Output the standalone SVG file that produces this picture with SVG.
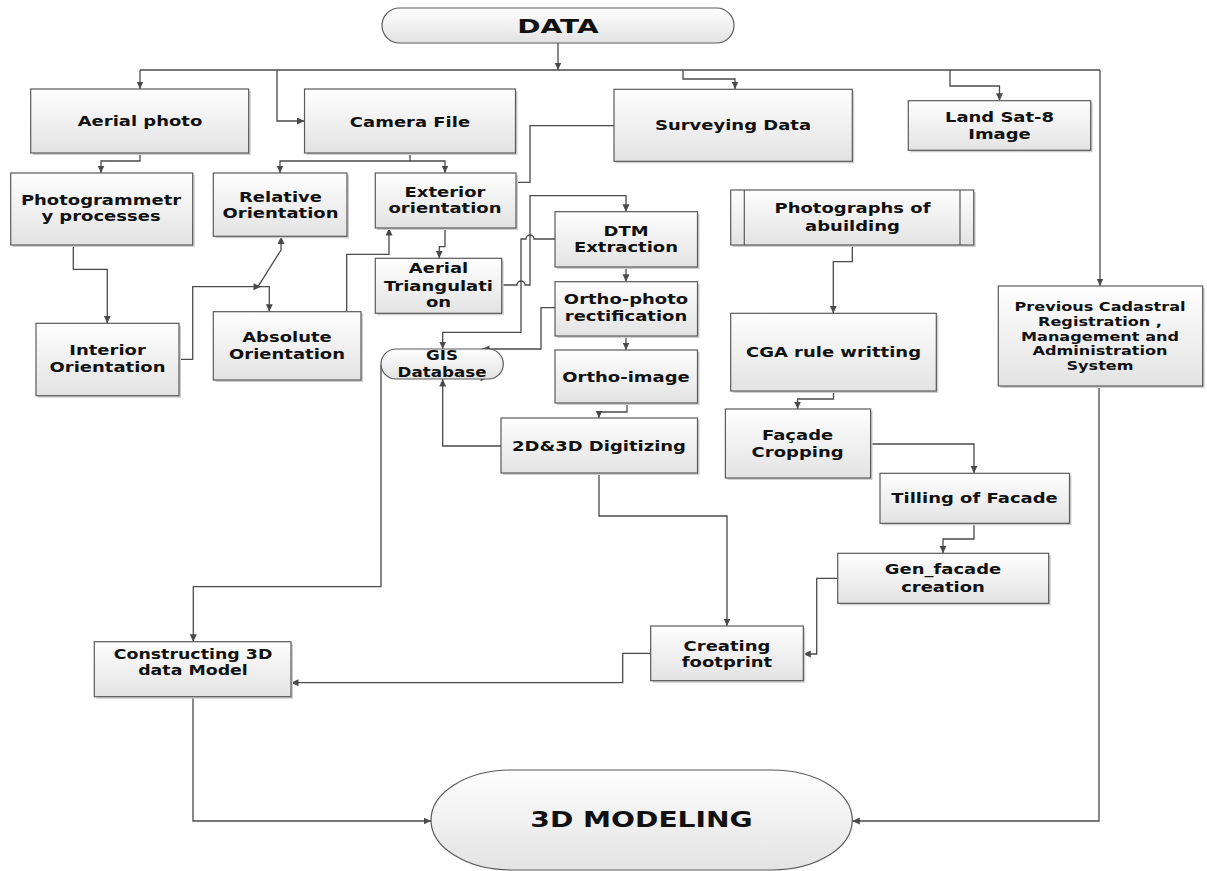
<svg xmlns="http://www.w3.org/2000/svg" width="1207" height="871" viewBox="0 0 1207 871">
<defs>
<linearGradient id="g" x1="0" y1="0" x2="0" y2="1">
<stop offset="0" stop-color="#fefefe"/>
<stop offset="1" stop-color="#e3e3e3"/>
</linearGradient>
<marker id="ah" markerUnits="userSpaceOnUse" markerWidth="9" markerHeight="8" refX="7.5" refY="3.5" orient="auto">
<path d="M0,0 L7.5,3.5 L0,7 z" fill="#4a4a4a"/>
</marker>
<style>
.b{fill:url(#g);stroke:#5a5a5a;stroke-width:1.2}
.s{fill:#cfcfcf;stroke:none}
.t{font-family:"DejaVu Sans","Verdana",sans-serif;font-weight:bold;font-size:14.5px;fill:#111;text-anchor:middle}
.c path{fill:none;stroke:#4a4a4a;stroke-width:1.3}
.c .a{marker-end:url(#ah)}
.c polygon{fill:#4a4a4a}
</style>
</defs>
<rect width="1207" height="871" fill="#fff"/>

<g class="c" id="connectors">
<path d="M558,43 V70"  class="a"/>
<path d="M140,70 H1100"/>
<path d="M140,70 V89" class="a"/>
<path d="M277,70 V121 H304.5" class="a"/>
<path d="M683,70 V79 H735 V89" class="a"/>
<path d="M950,70 V86 H999.5 V100.7" class="a"/>
<path d="M1100,70 V286" class="a"/>
<path d="M140,153 V161 H101 V173" class="a"/>
<path d="M73.3,245 V269.3 H107.3 V323.3" class="a"/>
<path d="M410,153 V161 H280 V173" class="a"/>
<path d="M410,161 H445 V173" class="a"/>
<path d="M614,125.7 H530 V182.3 H498.5" class="a"/>
<path d="M445,228 V246.7 H439.3 V258.3" class="a"/>
<path d="M179,359.3 H192.7 V286.7 H269.3 V311.7" class="a"/>
<path d="M258,286.7 L281,250 V236.5" class="a"/>
<polygon points="261,286.7 253.5,283.2 253.5,290.2"/>
<path d="M346.7,311.7 V254.3 H389 V228" class="a"/>
<path d="M501.7,285 H517 a4,4 0 0 1 8,0 H530 V195.7 H626 V211.7" class="a"/>
<path d="M555,239 H534 a4,4 0 0 0 -8,0 H521 V332.3 H442.7 V349" class="a"/>
<path d="M626,267 V281.7" class="a"/>
<path d="M555,307.7 H541 V349 H482" class="a"/>
<path d="M626,336 V350" class="a"/>
<path d="M627,403 V412 H599 V418" class="a"/>
<path d="M501,446 H442.7 V379" class="a"/>
<polygon points="488,377.7 480.5,374.2 480.5,381.2"/>
<path d="M599,473 V516 H727 V626" class="a"/>
<path d="M381,365 V586.7 H193.3 V641.7" class="a"/>
<path d="M650.7,653.3 H622.7 V682.7 H291" class="a"/>
<path d="M837.7,578.3 H816.7 V654 H803.3" class="a"/>
<path d="M852.3,245 V261.7 H833.3 V313.3" class="a"/>
<path d="M833.5,391 V399 H797.6 V409" class="a"/>
<path d="M870.6,444 H974 V473.3" class="a"/>
<path d="M974,523.3 V539 H943 V553.3" class="a"/>
<path d="M193,696.7 V821 H431" class="a"/>
<path d="M1099,386 V821 H852.3" class="a"/>
</g>

<g id="n-data">
<rect class="b" x="382" y="8" width="352" height="35" rx="17.5" ry="17.5"/>
<text class="t" style="font-size:19px" transform="translate(558,0) scale(1.48,1)"><tspan x="0" y="33">DATA</tspan></text>
</g>
<g id="n-aerial">
<rect class="s" x="32.7" y="91" width="218" height="64"/>
<rect class="b" x="30.7" y="89" width="218" height="64"/>
<text class="t" transform="translate(140,0) scale(1.24,1)"><tspan x="0" y="126">Aerial photo</tspan></text>
</g>
<g id="n-camera">
<rect class="s" x="306.5" y="91" width="211" height="64"/>
<rect class="b" x="304.5" y="89" width="211" height="64"/>
<text class="t" transform="translate(410,0) scale(1.24,1)"><tspan x="0" y="127">Camera File</tspan></text>
</g>
<g id="n-surveying">
<rect class="s" x="616" y="91.3" width="238.3" height="72"/>
<rect class="b" x="614" y="89.3" width="238.3" height="72"/>
<text class="t" transform="translate(733,0) scale(1.24,1)"><tspan x="0" y="130">Surveying Data</tspan></text>
</g>
<g id="n-landsat">
<rect class="s" x="910.3" y="102.7" width="182.4" height="49.6"/>
<rect class="b" x="908.3" y="100.7" width="182.4" height="49.6"/>
<text class="t" transform="translate(999.5,0) scale(1.24,1)"><tspan x="0" y="121.7">Land Sat-8</tspan><tspan x="0" y="139.3">Image</tspan></text>
</g>
<g id="n-photogrammetry">
<rect class="s" x="12.7" y="175" width="182" height="72"/>
<rect class="b" x="10.7" y="173" width="182" height="72"/>
<text class="t" transform="translate(101,0) scale(1.24,1)"><tspan x="0" y="205">Photogrammetr</tspan><tspan x="0" y="221">y processes</tspan></text>
</g>
<g id="n-relative">
<rect class="s" x="215.3" y="175" width="133.7" height="63.3"/>
<rect class="b" x="213.3" y="173" width="133.7" height="63.3"/>
<text class="t" transform="translate(280.5,0) scale(1.24,1)"><tspan x="0" y="201.7">Relative</tspan><tspan x="0" y="218.3">Orientation</tspan></text>
</g>
<g id="n-exterior">
<rect class="s" x="377.3" y="175" width="140.7" height="55"/>
<rect class="b" x="375.3" y="173" width="140.7" height="55"/>
<text class="t" transform="translate(445,0) scale(1.24,1)"><tspan x="0" y="196.7">Exterior</tspan><tspan x="0" y="213.3">orientation</tspan></text>
</g>
<g id="n-triangulation">
<rect class="s" x="377.3" y="260.3" width="126.4" height="55"/>
<rect class="b" x="375.3" y="258.3" width="126.4" height="55"/>
<text class="t" transform="translate(438.5,0) scale(1.24,1)"><tspan x="0" y="273.3">Aerial</tspan><tspan x="0" y="291">Triangulati</tspan><tspan x="0" y="306.7">on</tspan></text>
</g>
<g id="n-dtm">
<rect class="s" x="557" y="213.7" width="142.5" height="55.3"/>
<rect class="b" x="555" y="211.7" width="142.5" height="55.3"/>
<text class="t" transform="translate(626,0) scale(1.24,1)"><tspan x="0" y="236">DTM</tspan><tspan x="0" y="251.7">Extraction</tspan></text>
</g>
<g id="n-orthophoto">
<rect class="s" x="557" y="283.7" width="142.5" height="54.3"/>
<rect class="b" x="555" y="281.7" width="142.5" height="54.3"/>
<text class="t" transform="translate(626,0) scale(1.24,1)"><tspan x="0" y="304">Ortho-photo</tspan><tspan x="0" y="321">rectification</tspan></text>
</g>
<g id="n-orthoimage">
<rect class="s" x="557" y="352" width="142.5" height="53"/>
<rect class="b" x="555" y="350" width="142.5" height="53"/>
<text class="t" transform="translate(626,0) scale(1.24,1)"><tspan x="0" y="381.7">Ortho-image</tspan></text>
</g>
<g id="n-digitizing">
<rect class="s" x="503" y="420" width="196.5" height="55"/>
<rect class="b" x="501" y="418" width="196.5" height="55"/>
<text class="t" transform="translate(599,0) scale(1.24,1)"><tspan x="0" y="450.7">2D&amp;3D Digitizing</tspan></text>
</g>
<g id="n-gis">
<rect class="b" x="381" y="349" width="122.3" height="30" rx="15" ry="15"/>
<text class="t" style="font-size:13.5px" transform="translate(442,0) scale(1.24,1)"><tspan x="0" y="360">GIS</tspan><tspan x="0" y="376.7">Database</tspan></text>
</g>
<g id="n-interior">
<rect class="s" x="38" y="325.3" width="143" height="72.4"/>
<rect class="b" x="36" y="323.3" width="143" height="72.4"/>
<text class="t" transform="translate(107.5,0) scale(1.24,1)"><tspan x="0" y="355">Interior</tspan><tspan x="0" y="371.7">Orientation</tspan></text>
</g>
<g id="n-absolute">
<rect class="s" x="215.3" y="313.7" width="147.7" height="68.3"/>
<rect class="b" x="213.3" y="311.7" width="147.7" height="68.3"/>
<text class="t" transform="translate(287,0) scale(1.24,1)"><tspan x="0" y="342.3">Absolute</tspan><tspan x="0" y="359.3">Orientation</tspan></text>
</g>
<g id="n-photographs">
<rect class="s" x="732.7" y="192" width="243" height="55"/>
<rect class="b" x="730.7" y="190" width="243" height="55"/>
<path d="M744.3,190 V245 M960,190 V245" stroke="#5a5a5a" stroke-width="1.2" fill="none"/>
<text class="t" transform="translate(852.5,0) scale(1.24,1)"><tspan x="0" y="213.3">Photographs of</tspan><tspan x="0" y="230.7">abuilding</tspan></text>
</g>
<g id="n-cga">
<rect class="s" x="732.7" y="315.3" width="205.6" height="77.7"/>
<rect class="b" x="730.7" y="313.3" width="205.6" height="77.7"/>
<text class="t" transform="translate(833.5,0) scale(1.24,1)"><tspan x="0" y="357.3">CGA rule writting</tspan></text>
</g>
<g id="n-cadastral">
<rect class="s" x="1000.3" y="288" width="204.4" height="100"/>
<rect class="b" x="998.3" y="286" width="204.4" height="100"/>
<text class="t" style="font-size:13px" transform="translate(1100,0) scale(1.24,1)"><tspan x="0" y="311">Previous Cadastral</tspan><tspan x="0" y="326">Registration ,</tspan><tspan x="0" y="341">Management and</tspan><tspan x="0" y="355.3">Administration</tspan><tspan x="0" y="370">System</tspan></text>
</g>
<g id="n-facade">
<rect class="s" x="727.4" y="411" width="145.2" height="69"/>
<rect class="b" x="725.4" y="409" width="145.2" height="69"/>
<text class="t" transform="translate(797.6,0) scale(1.24,1)"><tspan x="0" y="440">Façade</tspan><tspan x="0" y="456.7">Cropping</tspan></text>
</g>
<g id="n-tilling">
<rect class="s" x="882" y="475.3" width="189.5" height="50"/>
<rect class="b" x="880" y="473.3" width="189.5" height="50"/>
<text class="t" transform="translate(974.5,0) scale(1.24,1)"><tspan x="0" y="503.3">Tilling of Facade</tspan></text>
</g>
<g id="n-genfacade">
<rect class="s" x="839.7" y="555.3" width="211" height="50"/>
<rect class="b" x="837.7" y="553.3" width="211" height="50"/>
<text class="t" transform="translate(943,0) scale(1.24,1)"><tspan x="0" y="574">Gen_facade</tspan><tspan x="0" y="591.7">creation</tspan></text>
</g>
<g id="n-footprint">
<rect class="s" x="652.7" y="628" width="152.6" height="54.7"/>
<rect class="b" x="650.7" y="626" width="152.6" height="54.7"/>
<text class="t" transform="translate(727,0) scale(1.24,1)"><tspan x="0" y="650.7">Creating</tspan><tspan x="0" y="666.7">footprint</tspan></text>
</g>
<g id="n-constructing">
<rect class="s" x="96.3" y="643.7" width="196.7" height="55"/>
<rect class="b" x="94.3" y="641.7" width="196.7" height="55"/>
<text class="t" style="font-size:13.8px" transform="translate(193,0) scale(1.26,1)"><tspan x="0" y="659">Constructing 3D</tspan><tspan x="0" y="675">data Model</tspan></text>
</g>
<g id="n-modeling">
<rect class="b" x="431" y="770" width="421.3" height="100" rx="80" ry="50"/>
<text class="t" style="font-size:21.5px" transform="translate(641.5,0) scale(1.31,1)"><tspan x="0" y="827.3">3D MODELING</tspan></text>
</g>
</svg>
